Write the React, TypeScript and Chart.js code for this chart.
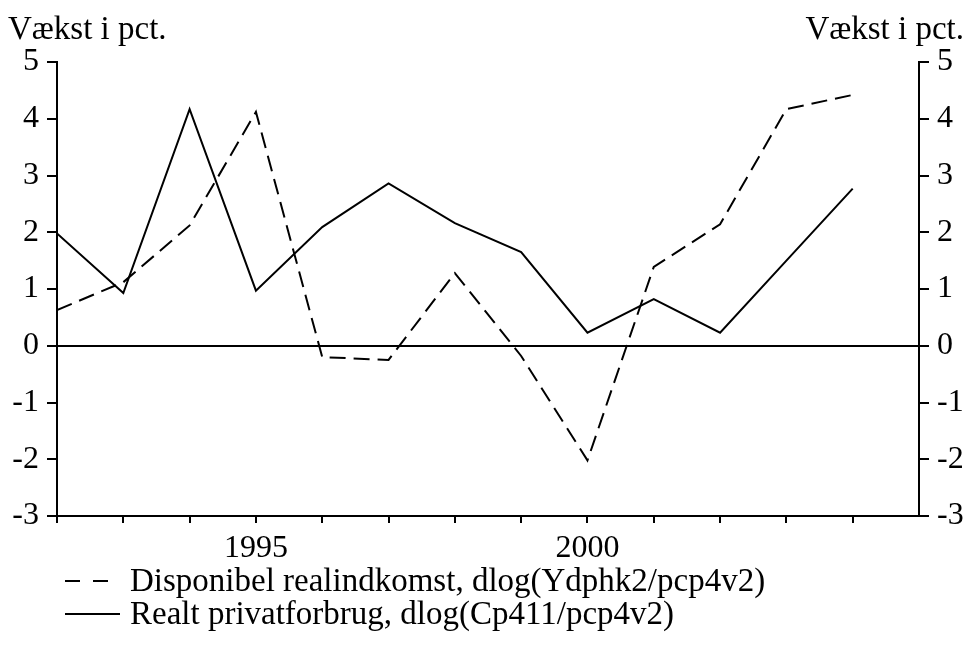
import React, { useEffect, useRef } from 'react';
import { Chart, registerables } from 'chart.js';

Chart.register(...registerables);

// ---- Data ----
const years = [1992, 1993, 1994, 1995, 1996, 1997, 1998, 1999, 2000, 2001, 2002, 2003, 2004];
const disponibel = [0.63, 1.12, 2.12, 4.12, -0.2, -0.25, 1.28, -0.18, -2.02, 1.39, 2.14, 4.17, 4.42];
const privatforbrug = [1.98, 0.93, 4.17, 0.97, 2.09, 2.86, 2.16, 1.65, 0.23, 0.82, 0.23, 1.5, 2.77];
const seriesLabels = [
  'Disponibel realindkomst, dlog(Ydphk2/pcp4v2)',
  'Realt privatforbrug, dlog(Cp411/pcp4v2)',
];
const axisTitle = 'Vækst i pct.';
const labelledYears = [1995, 2000];
const xMin = 1992;
const xMax = 2005;
const yMin = -3;
const yMax = 5;

const FONT = '"Liberation Serif", "Times New Roman", serif';

const overlayPlugin = {
  id: 'overlayText',
  afterDraw(chart: any) {
    const ctx = chart.ctx;
    ctx.save();
    ctx.fillStyle = '#000';
    ctx.strokeStyle = '#000';
    ctx.font = `33px ${FONT}`;
    ctx.textBaseline = 'alphabetic';
    ctx.textAlign = 'left';
    ctx.fillText(axisTitle, 8, 39);
    ctx.textAlign = 'right';
    ctx.fillText(axisTitle, 964, 39);

    const legendDashes = [[15, 13], []];
    chart.data.datasets.forEach((ds: any, i: number) => {
      const y = 581 + i * 33;
      ctx.beginPath();
      ctx.setLineDash(legendDashes[i]);
      ctx.lineWidth = 2;
      ctx.moveTo(65, y);
      ctx.lineTo(120, y);
      ctx.stroke();
      ctx.setLineDash([]);
      ctx.textAlign = 'left';
      ctx.textBaseline = 'middle';
      ctx.fillText(ds.label, 130, y + 1);
    });
    ctx.restore();
  },
};

export default function App() {
  const canvasRef = useRef<HTMLCanvasElement | null>(null);

  useEffect(() => {
    if (!canvasRef.current) return;
    Chart.defaults.font.family = FONT;
    Chart.defaults.font.size = 32;
    Chart.defaults.color = '#000';

    const chart = new Chart(canvasRef.current, {
      type: 'line',
      data: {
        datasets: [
          {
            label: seriesLabels[0],
            data: years.map((x, i) => ({ x, y: disponibel[i] })),
            borderColor: '#000',
            borderWidth: 2,
            borderDash: [16, 8],
            pointRadius: 0,
            tension: 0,
            fill: false,
          },
          {
            label: seriesLabels[1],
            data: years.map((x, i) => ({ x, y: privatforbrug[i] })),
            borderColor: '#000',
            borderWidth: 2,
            pointRadius: 0,
            tension: 0,
            fill: false,
          },
        ],
      },
      options: {
        animation: false,
        responsive: true,
        maintainAspectRatio: false,
        layout: { padding: { top: 62, left: 0, right: 0, bottom: 0 } },
        plugins: {
          legend: { display: false },
          tooltip: { enabled: false },
          title: { display: false },
        },
        scales: {
          x: {
            type: 'linear',
            min: xMin,
            max: xMax,
            ticks: {
              stepSize: 1,
              autoSkip: false,
              maxRotation: 0,
              padding: 6,
              color: '#000',
              font: { size: 32, family: FONT },
              callback: (v: any) => (labelledYears.includes(Number(v)) ? String(v) : ''),
            },
            grid: {
              drawOnChartArea: false,
              drawTicks: true,
              tickLength: 7,
              tickColor: '#000',
              lineWidth: 2,
            },
            border: { display: true, color: '#000', width: 2 },
            afterBuildTicks: (s: any) => {
              s.ticks = s.ticks.filter((t: any) => t.value < xMax);
            },
            afterFit: (s: any) => {
              s.height = 129;
            },
          },
          y: {
            type: 'linear',
            position: 'left',
            min: yMin,
            max: yMax,
            ticks: {
              stepSize: 1,
              padding: 8,
              color: '#000',
              font: { size: 32, family: FONT },
            },
            grid: {
              drawOnChartArea: true,
              drawTicks: true,
              tickLength: 10,
              tickColor: '#000',
              lineWidth: 2,
              color: (c: any) => (c.tick && c.tick.value === 0 ? '#000' : 'rgba(0,0,0,0)'),
            },
            border: { display: true, color: '#000', width: 2 },
            afterFit: (s: any) => {
              s.width = 57;
            },
          },
          y2: {
            type: 'linear',
            position: 'right',
            min: yMin,
            max: yMax,
            ticks: {
              stepSize: 1,
              padding: 8,
              color: '#000',
              font: { size: 32, family: FONT },
            },
            grid: {
              drawOnChartArea: false,
              drawTicks: true,
              tickLength: 10,
              tickColor: '#000',
              lineWidth: 2,
            },
            border: { display: true, color: '#000', width: 2 },
            afterFit: (s: any) => {
              s.width = 49;
            },
          },
        },
      } as any,
      plugins: [overlayPlugin],
    });
    return () => chart.destroy();
  }, []);

  return (
    <div style={{ position: 'fixed', left: 0, top: 0, width: 968, height: 645, background: '#fff' }}>
      <canvas ref={canvasRef} />
    </div>
  );
}
